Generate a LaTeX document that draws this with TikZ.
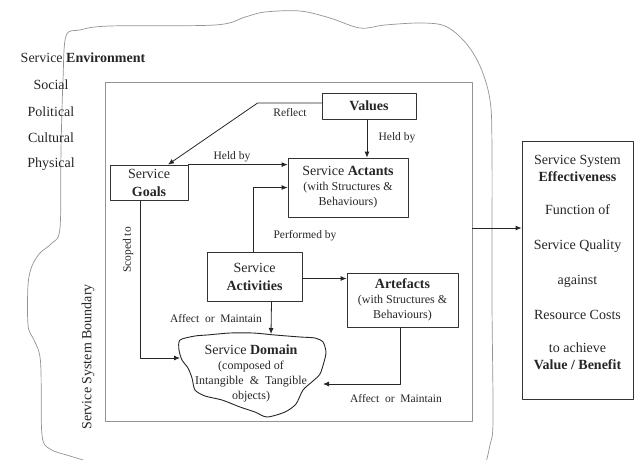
\documentclass[tikz,border=0pt]{standalone}
\usepackage{fontspec}
\setmainfont{Liberation Serif}
\usetikzlibrary{arrows.meta}
\begin{document}
\begin{tikzpicture}[x=1pt,y=-1pt, line join=round, line cap=round,
	font=\fontsize{14}{17}\selectfont, text=black!85,
	box/.style={draw=black!80, line width=.8pt, align=center, inner sep=0pt},
	lbl/.style={font=\fontsize{11.5}{13}\selectfont, inner sep=0pt},
	small/.style={font=\fontsize{12}{15}\selectfont},
	arr/.style={draw=black!85, line width=.8pt, -{Latex[length=6pt,width=5pt]}},
	edge/.style={draw=gray!85, line width=.7pt}]
	\useasboundingbox (0,0) rectangle (638,459);
	%Service environment (outer line)
	\begin{scope}
		\clip (0,0) rectangle (638,459);
		\draw[edge] plot[smooth, tension=.55] coordinates {(483,475) (490,445) (493,420) (492,300) (492,150) (490,100) (480,66) (465,42) (445,26) (420,23) (385,25) (360,28) (330,18) (300,11) (265,12) (245,17) (215,25) (110,26) (80,30) (66,36) (63,80) (61,150) (60,228) (52,243) (40,253) (32,266) (28,285) (28,325) (33,338) (39,352) (41,372) (42,435) (50,449) (70,456) (100,465)};
	\end{scope}
	\node (env) at (83,58) {Service \textbf{Environment}};
	\node (social) at (51,85) {Social};
	\node (political) at (51,112) {Political};
	\node (cultural) at (51,138) {Cultural};
	\node (physical) at (51,164) {Physical};
	%Service system boundary
	\node[draw=gray!85, line width=.7pt, minimum width=367, minimum height=339] (boundary) at (288.5,251.5) {};
	\node[rotate=90] (sysb) at (88,357) {Service System Boundary};
	%Boxes
	\node[box, minimum width=94, minimum height=26] (values) at (369,106) {\textbf{Values}};
	\node[box, small, minimum width=120, minimum height=59] (actants) at (348,187.5) {{\fontsize{14}{15}\selectfont Service \textbf{Actants}}\\(with Structures \&\\Behaviours)};
	\node[box, minimum width=78, minimum height=35, font=\fontsize{14}{18}\selectfont] (goals) at (149,182.5) {Service\\\textbf{Goals}};
	\node[box, minimum width=95, minimum height=49, font=\fontsize{14}{18}\selectfont] (activities) at (254.5,276.5) {Service\\\textbf{Activities}};
	\node[box, small, minimum width=111, minimum height=54] (artefacts) at (402.5,300) {{\fontsize{14}{15}\selectfont\textbf{Artefacts}}\\(with Structures \&\\Behaviours)};
	%Service domain (cloud)
	\draw[line width=.9pt, black!85] plot[smooth cycle, tension=.45] coordinates {(180,340) (195,336) (207,335) (230,333) (253,333) (275,335) (300,337) (315,338) (323,342) (326,352) (324,362) (320,374) (313,381) (303,390) (296,404) (285,412) (267,417) (255,412) (240,407) (222,400) (205,396) (195,390) (192,378) (188,368) (182,360) (179,350)};
	\node[small, align=center, inner sep=0pt] (domain) at (251,373) {{\fontsize{14}{15}\selectfont Service \textbf{Domain}}\\(composed of\\Intangible \ \& \ Tangible\\objects)};
	\coordinate (domtop) at (271,334);
	\coordinate (domleft) at (180,358);
	\coordinate (domright) at (323,384);
	%Effectiveness
	\node[box, minimum width=111, minimum height=258] (eff) at (577.5,270) {};
	\node[align=center, inner sep=0pt] (efftext) at (577.5,262) {Service System\\\textbf{Effectiveness}\\[16pt]Function of\\[18pt]Service Quality\\[18pt]against\\[18pt]Resource Costs\\[16pt]to achieve\\\textbf{Value / Benefit}};
	%Connectors
	\draw[arr] ([yshift=3pt]values.west) -- ++(-64,0) -- ([xshift=19pt]goals.north);
	\node[lbl] (reflect) at (290,113) {Reflect};
	\draw[arr] ([xshift=-2pt]values.south) -- ([xshift=-2pt]values.south |- actants.north);
	\node[lbl] (heldby1) at (397,138) {Held by};
	\draw[arr] (goals.north east) -- (goals.north east -| actants.west);
	\node[lbl] (heldby2) at (232,157) {Held by};
	\draw[arr] ([xshift=-1pt]activities.north) |- (actants.west);
	\node[lbl] (perf) at (305,236) {Performed by};
	\draw[arr] ([yshift=-2pt]activities.east) -- ([yshift=-2pt]activities.east -| artefacts.west);
	\draw[arr] ([xshift=17pt]activities.south) -- (domtop);
	\node[lbl] (affect1) at (216,318) {Affect\ \ or\ \ Maintain};
	\draw[arr] ([xshift=-9pt]goals.south) |- (domleft);
	\node[lbl, rotate=90] (scoped) at (128,250) {Scoped to};
	\draw[arr] ([xshift=-2pt]artefacts.south) |- (domright);
	\node[lbl] (affect2) at (396,398) {Affect\ \ or\ \ Maintain};
	\draw[arr] (boundary.east |- 0,228) -- (eff.west |- 0,228);
\end{tikzpicture}
\end{document}
